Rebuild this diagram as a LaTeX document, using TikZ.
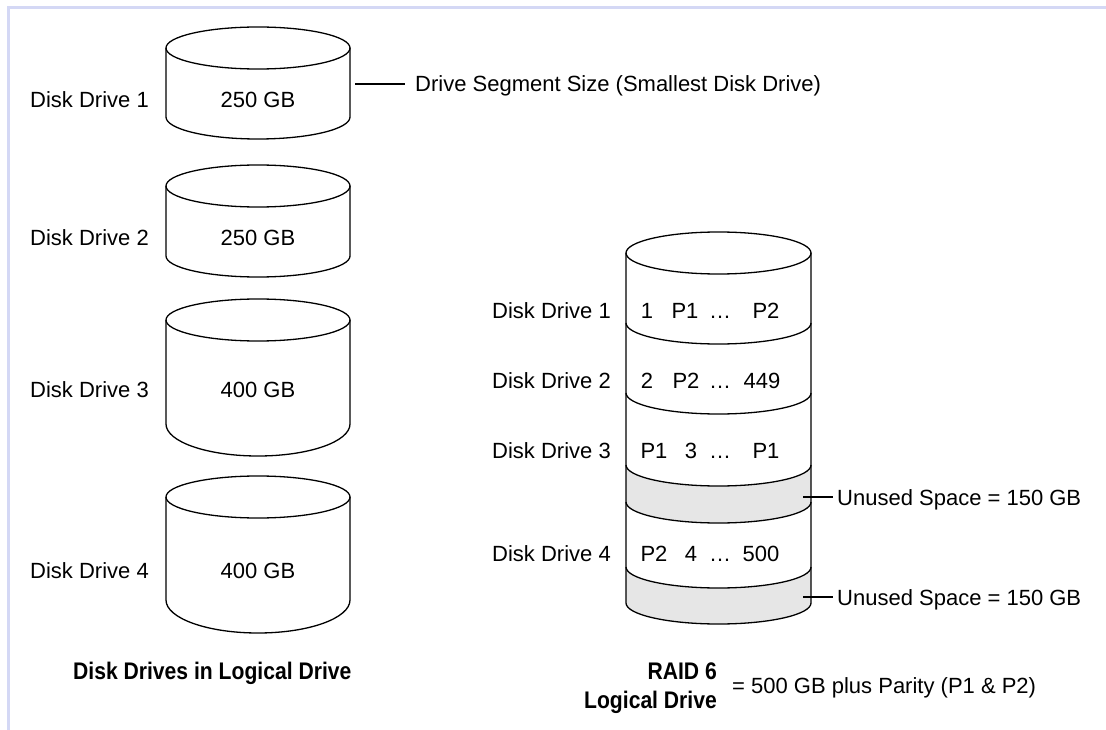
\documentclass[tikz,border=0pt]{standalone}
\usepackage{fontspec}
\setmainfont{Liberation Sans}
\newfontfamily\condbold[FakeStretch=0.88]{Liberation Sans}
\definecolor{framecol}{RGB}{212,216,245}
\definecolor{unusedfill}{RGB}{230,230,230}
\newcommand\diskcyl[3]{%
  \draw[diskline] (166,#1) -- (166,#2) arc[start angle=180, end angle=360, x radius=92pt, y radius=#3pt] -- (350,#1);
  \draw[diskline] (258,#1) ellipse [x radius=92pt, y radius=21pt];}
\newcommand\raidarc[1]{%
  \draw[diskline] (626,#1) arc[start angle=180, end angle=360, x radius=92.5pt, y radius=21pt];}
\newcommand\raidband[2]{%
  \fill[unusedfill] (626,#1) arc[start angle=180, end angle=360, x radius=92.5pt, y radius=21pt]
    -- (811,#2) arc[start angle=0, end angle=-180, x radius=92.5pt, y radius=21pt] -- cycle;}
\begin{document}
\begin{tikzpicture}[x=1pt,y=-1pt,
  every node/.style={font=\fontsize{22}{26}\selectfont, inner sep=0pt, text height=16pt, text depth=0pt},
  diskline/.style={line width=1.3pt, black},
  connector/.style={line width=1.5pt, black},
  lbl/.style={anchor=west},
  boldlbl/.style={font=\fontsize{24}{28}\selectfont\condbold\bfseries, text height=17pt},
  raidbold/.style={boldlbl, anchor=east}]
\useasboundingbox (0,0) rectangle (1106,730);
\fill[white] (0,0) rectangle (1106,730);
\draw[framecol, line width=2.7pt] (8.5,730) -- (8.5,7.5) -- (1106,7.5);

% left disks
\diskcyl{48}{117}{22}
\diskcyl{186}{256}{21}
\diskcyl{320}{424}{32}
\diskcyl{497}{600}{33}

\node (c1) at (258,100) {250 GB};
\node (c2) at (258,238) {250 GB};
\node (c3) at (258,389) {400 GB};
\node (c4) at (258,570) {400 GB};

\node[lbl] (l1) at (30,100) {Disk Drive 1};
\node[lbl] (l2) at (30,238) {Disk Drive 2};
\node[lbl] (l3) at (30,389) {Disk Drive 3};
\node[lbl] (l4) at (30,570) {Disk Drive 4};

\coordinate (segstart) at (355,84);
\node[lbl] (seg) at (415,84) {Drive Segment Size (Smallest Disk Drive)};
\draw[connector] (segstart) -- ([xshift=-10pt]seg.west);

\node[boldlbl, anchor=west] (capleft) at (73,671) {Disk Drives in Logical Drive};

% RAID cylinder
\raidband{465}{502}
\raidband{567}{603}
\draw[diskline] (626,253) -- (626,603) arc[start angle=180, end angle=360, x radius=92.5pt, y radius=21pt] -- (811,253);
\draw[diskline] (718.5,253) ellipse [x radius=92.5pt, y radius=21pt];
\raidarc{323}
\raidarc{393}
\raidarc{465}
\raidarc{502}
\raidarc{567}

\node (r1a) at (647,310) {1};
\node (r1b) at (685,310) {P1};
\node (r1c) at (720,310) {…};
\node (r1d) at (766,310) {P2};
\node (r2a) at (647,380) {2};
\node (r2b) at (686,380) {P2};
\node (r2c) at (720,380) {…};
\node (r2d) at (762,380) {449};
\node (r3a) at (654,450) {P1};
\node (r3b) at (691,450) {3};
\node (r3c) at (720,450) {…};
\node (r3d) at (766,450) {P1};
\node (r4a) at (654,553) {P2};
\node (r4b) at (691,553) {4};
\node (r4c) at (720,553) {…};
\node (r4d) at (761,553) {500};

\node[lbl] (rl1) at (492,310) {Disk Drive 1};
\node[lbl] (rl2) at (492,380) {Disk Drive 2};
\node[lbl] (rl3) at (492,450) {Disk Drive 3};
\node[lbl] (rl4) at (492,553) {Disk Drive 4};

\coordinate (u1start) at (803,497);
\coordinate (u2start) at (803,597);
\node[lbl] (u1) at (837,497) {Unused Space = 150 GB};
\node[lbl] (u2) at (837,597) {Unused Space = 150 GB};
\draw[connector] (u1start) -- ([xshift=-4pt]u1.west);
\draw[connector] (u2start) -- ([xshift=-4pt]u2.west);

\node[raidbold] (raid) at (717,671) {RAID 6};
\node[raidbold] (logical) at (717,700) {Logical Drive};
\node[lbl] (eq) at (732,685) {= 500 GB plus Parity (P1 \& P2)};
\end{tikzpicture}
\end{document}
